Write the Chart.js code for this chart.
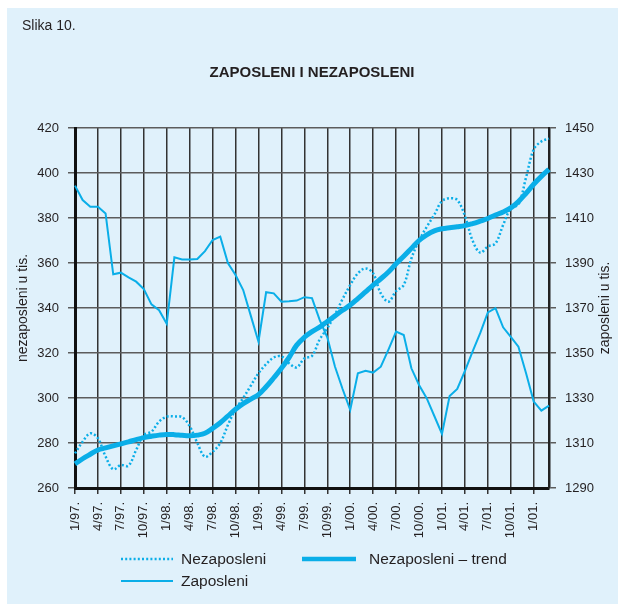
<!doctype html>
<html lang="sr"><head>
<meta charset="utf-8"/>
<title>Zaposleni i nezaposleni</title>
<script src="https://cdn.jsdelivr.net/npm/chart.js@4.4.6/dist/chart.umd.min.js"></script>
<style>
  *{box-sizing:border-box}
  body{margin:0;background:#fff;font-family:"Liberation Sans",Arial,sans-serif;color:#231f20}
  #wrap{position:relative;width:618px;height:604px;overflow:hidden}
  #panel{position:absolute;left:7px;top:8px;right:0;bottom:0;background:#e0f1fb}
  #c{position:absolute;left:0;top:0}
  .slika{position:absolute;left:22px;top:17px;font-size:14px}
  .title{position:absolute;left:0;width:618px;top:63px;text-align:center;font-weight:700;font-size:15px;padding-left:6px}
  .lg{position:absolute;font-size:15.5px;line-height:18px;display:flex;align-items:center;gap:8px}
  .lg svg{display:block}
</style></head>
<body>
<div id="wrap">
  <div id="panel"></div>
  <canvas id="c" width="618" height="604"></canvas>
  <div class="slika">Slika 10.</div>
  <div class="title">ZAPOSLENI I NEZAPOSLENI</div>
  <div class="lg" style="left:121px;top:550px">
    <svg width="52" height="6"><line x1="0" y1="3" x2="52" y2="3" stroke="#0aaee8" stroke-width="2.5" stroke-dasharray="2 2.2"/></svg>Nezaposleni</div>
  <div class="lg" style="left:302px;top:550px;gap:13px">
    <svg width="54" height="6"><line x1="0" y1="3" x2="54" y2="3" stroke="#0aaee8" stroke-width="4.5"/></svg>Nezaposleni – trend</div>
  <div class="lg" style="left:121px;top:572px">
    <svg width="52" height="6"><line x1="0" y1="3" x2="52" y2="3" stroke="#0aaee8" stroke-width="2"/></svg>Zaposleni</div>
</div>
<script>
// quarterly tick labels (the last one is printed as "1/01." in the source)
const tickLabels=['1/97.','4/97.','7/97.','10/97.','1/98.','4/98.','7/98.','10/98.','1/99.','4/99.','7/99.','10/99.',
  '1/00.','4/00.','7/00.','10/00.','1/01.','4/01.','7/01.','10/01.','1/01.'];

// monthly categories 1/97 .. 3/02
const months=[];
for(let y=97;y<=102;y++)for(let m=1;m<=12;m++){if(y===102&&m>3)break;months.push(m+'/'+String(y%100).padStart(2,'0'));}

// nezaposleni (thousands, left axis)
const nezaposleni=[275.4,280.6,284.3,282.1,274,268.3,270.2,269.9,276.9,283.6,285,289.5,
  291.7,291.8,291.5,287.5,280,273.9,276.1,280,288,295,300,305.5,
  311,315,318,318.5,315.4,313.6,317.6,318.7,326,331,337,344,
  350.2,355.4,357.6,355.4,346.5,342.8,347.5,350.2,362,370,376,381.5,
  387.5,388.8,388,381,370,364.6,367.3,368.7,376.9,384.3,386,398,
  410.5,414,415.3];

// nezaposleni - trend (left axis)
const trend=[270.7,273,275,276.9,277.8,278.7,279.6,280.5,281.5,282.4,283,283.5,
  283.8,283.7,283.4,283.2,283.5,284.3,286.5,289,292,295,297.5,299.5,
  301.5,305,309,313.2,318,323.5,327,329.5,331.5,334,336.5,339,
  341.3,344.2,347.2,350.2,353,356,359.7,363,366.5,370,372.5,374.3,
  375.2,375.7,376.1,376.6,377.5,378.6,379.8,381.3,382.7,384.5,387.3,391,
  395,398.5,401.6];

// zaposleni (thousands, right axis)
const zaposleni=[1424.4,1418,1415,1415,1412,1385,1385.7,1383.6,1381.7,1378.4,1371.6,1369,
  1363,1392.5,1391.6,1391.6,1391.8,1395.3,1400.2,1401.7,1390,1384.7,1378,1366.5,
  1355,1377,1376.5,1372.8,1373,1373.3,1374.8,1374.4,1364.7,1357,1344,1334,
  1324.7,1341,1342.1,1341.3,1343.9,1351.5,1359.5,1358,1343.2,1335.8,1329.9,1322,
  1314,1330.9,1334,1342,1350.6,1358.8,1368,1369.9,1361.4,1357.2,1352.8,1341,
  1328.4,1324.4,1326.6];

const BLUE='#0aaee8', INK='#231f20', FONT='"Liberation Sans", Arial, sans-serif';

const axisTitles={id:'axisTitles',afterDraw(ch){
  const c=ch.ctx, a=ch.chartArea, mid=(a.top+a.bottom)/2;
  c.save();c.fillStyle=INK;c.font='14px '+FONT;c.textAlign='center';c.textBaseline='middle';
  [[23,'nezaposleni u tis.'],[605,'zaposleni u tis.']].forEach(([x,t])=>{
    c.save();c.translate(x,mid);c.rotate(-Math.PI/2);c.fillText(t,0,0);c.restore();});
  c.restore();
}};

new Chart(document.getElementById('c'),{
  type:'line',
  data:{labels:months,datasets:[
    {label:'Zaposleni',data:zaposleni,yAxisID:'yR',borderColor:BLUE,borderWidth:2,pointRadius:0,tension:0},
    {label:'Nezaposleni',data:nezaposleni,yAxisID:'y',borderColor:BLUE,borderWidth:2.5,borderDash:[2,2.2],pointRadius:0,tension:0.35},
    {label:'Nezaposleni – trend',data:trend,yAxisID:'y',borderColor:BLUE,borderWidth:5,pointRadius:0,tension:0.4}
  ]},
  options:{
    responsive:false,animation:false,devicePixelRatio:1,
    layout:{padding:{top:128,left:0,right:0,bottom:0}},
    plugins:{legend:{display:false},tooltip:{enabled:false}},
    scales:{
      x:{offset:false,
        afterFit:s=>{s.height=116;},
        grid:{color:c=>c.index%3===0?'#333':'rgba(0,0,0,0)',lineWidth:1.5,tickLength:6},
        border:{color:'#111',width:3},
        ticks:{autoSkip:false,maxRotation:90,minRotation:90,padding:8,color:INK,font:{family:FONT,size:13},
          callback:(v,i)=>i%3===0?tickLabels[i/3]:''}},
      y:{position:'left',min:260,max:420,
        afterFit:s=>{s.width=75;},
        grid:{color:'#5c5c5c',lineWidth:1.5,tickLength:7},
        border:{color:'#111',width:3},
        ticks:{stepSize:20,padding:9,color:INK,font:{family:FONT,size:13},callback:v=>String(v)}},
      yR:{position:'right',min:1290,max:1450,
        afterFit:s=>{s.width=69;},
        grid:{drawOnChartArea:false,color:'#5c5c5c',lineWidth:1.5,tickLength:7},
        border:{color:'#222',width:2.5},
        ticks:{stepSize:20,padding:9,color:INK,font:{family:FONT,size:13},callback:v=>String(v)}}
    }
  },
  plugins:[axisTitles]
});
</script>
</body></html>
